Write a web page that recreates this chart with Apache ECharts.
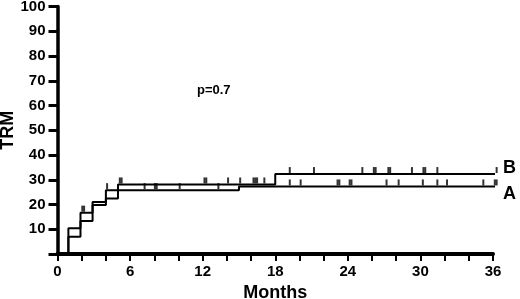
<!DOCTYPE html>
<html>
<head>
<meta charset="utf-8">
<script src="https://cdn.jsdelivr.net/npm/echarts@6/dist/echarts.min.js"></script>
<style>
  html, body { margin: 0; padding: 0; background: #fff; }
  #box { width: 520px; height: 299px; }
</style>
</head>
<body>
<div id="box"></div>
<script>
// step points of the two TRM curves (months, %)
const timesA = [0, 0.9, 1.9, 2.9, 4, 5, 15, 36.3];
const trmA = [0, 7, 13.3, 19.8, 22.4, 25.8, 27.3, 27.3];
const timesB = [0, 0.9, 1.9, 2.9, 4, 5, 18, 36.3];
const trmB = [0, 10.4, 16.7, 21, 25.8, 28.1, 32.3, 32.3];

// censored observations (months)
const censorA = [7.2, 8.05, 8.2, 10.1, 13.3, 19.2, 20.1, 23.15, 23.3, 24.15, 24.3, 27.2, 28.2, 30.2, 31.4, 32.2, 35.2, 36.15, 36.3];
const censorB = [2.05, 2.2, 4.1, 5.15, 5.3, 12.15, 12.3, 14.1, 15.1, 16.2, 16.35, 16.5, 17.1, 19.2, 21.2, 25.2, 26.15, 26.3, 27.35, 27.5, 29.3, 30.25, 30.4, 31.4, 36.3];

const pText = 'p=0.7';

function stepAt(times, vals, t) {
    let v = vals[0];
    for (let i = 0; i < times.length; i++) {
        if (times[i] <= t) v = vals[i];
    }
    return v;
}

function curve(name, times, vals, labelOffset) {
    return {
        name: name,
        type: 'line',
        step: 'end',
        symbol: 'none',
        clip: false,
        data: times.map((t, i) => [t, vals[i]]),
        lineStyle: { color: '#000', width: 2 },
        endLabel: {
            show: true,
            formatter: '{a}',
            color: '#000',
            fontFamily: 'Liberation Sans',
            fontWeight: 'bold',
            fontSize: 18,
            distance: 8,
            offset: labelOffset
        }
    };
}

function ticks(times, vals, censor) {
    return {
        type: 'scatter',
        symbol: 'rect',
        symbolSize: [2, 6],
        symbolOffset: [0, -4],
        clip: false,
        silent: true,
        itemStyle: { color: '#000' },
        data: censor.map(t => [t, stepAt(times, vals, t)])
    };
}

const labelFont = {
    color: '#000',
    fontFamily: 'Liberation Sans',
    fontWeight: 'bold',
    fontSize: 15
};

var option = {
    animation: false,
    backgroundColor: '#fff',
    grid: { left: 57.5, right: 27, top: 6.5, bottom: 45, containLabel: false, outerBoundsMode: 'none' },
    xAxis: {
        type: 'value',
        min: 0,
        max: 36,
        interval: 2,
        name: 'Months',
        nameLocation: 'middle',
        nameGap: 29,
        nameTextStyle: { color: '#000', fontFamily: 'Liberation Sans', fontWeight: 'bold', fontSize: 18 },
        axisLine: { lineStyle: { color: '#000', width: 4 } },
        axisTick: { length: 7, lineStyle: { color: '#000', width: 2 } },
        axisLabel: Object.assign({ margin: 10, formatter: v => (v % 6 === 0 ? v : '') }, labelFont),
        splitLine: { show: false }
    },
    yAxis: {
        type: 'value',
        min: 0,
        max: 100,
        interval: 10,
        name: 'TRM',
        nameLocation: 'middle',
        nameGap: 40,
        nameMoveOverlap: false,
        nameTextStyle: { color: '#000', fontFamily: 'Liberation Sans', fontWeight: 'bold', fontSize: 18 },
        axisLine: { lineStyle: { color: '#000', width: 3.5 } },
        axisTick: { length: 9, lineStyle: { color: '#000', width: 3 } },
        axisLabel: Object.assign({ margin: 12, formatter: v => (v === 0 ? '' : v) }, labelFont),
        splitLine: { show: false }
    },
    graphic: [{
        type: 'text',
        left: 197,
        top: 84,
        style: { text: pText, fill: '#000', font: 'bold 13px "Liberation Sans"' }
    }],
    series: [
        curve('A', timesA, trmA, [0, 8]),
        curve('B', timesB, trmB, [0, -6]),
        ticks(timesA, trmA, censorA),
        ticks(timesB, trmB, censorB)
    ]
};

var myChart = echarts.init(document.getElementById('box'));
option && myChart.setOption(option);
</script>
</body>
</html>
